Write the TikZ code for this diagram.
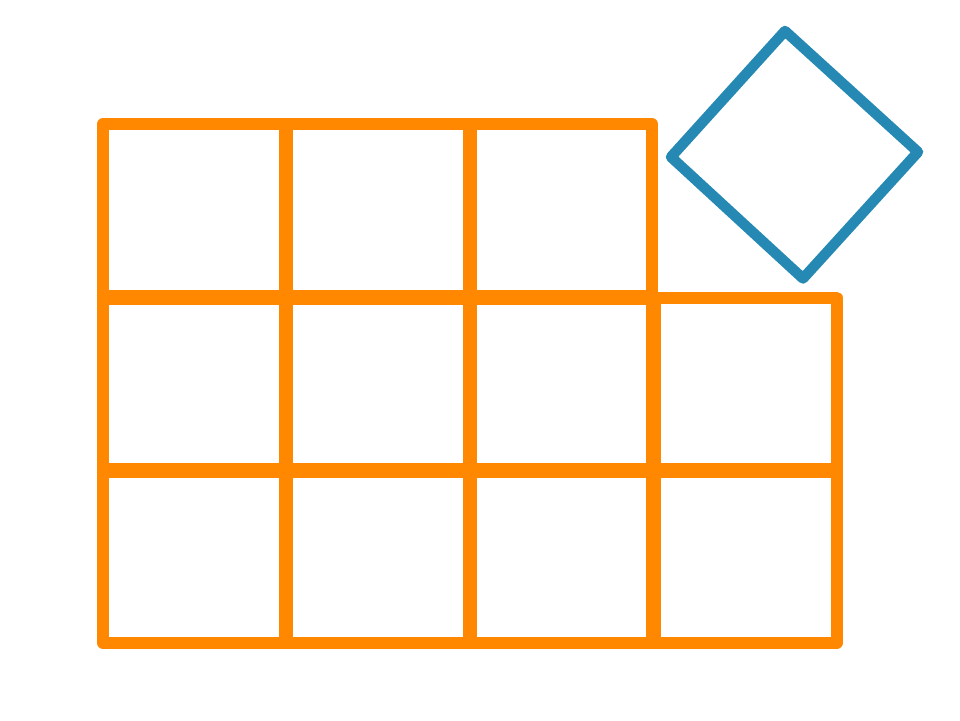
\documentclass[tikz,border=0pt]{standalone}
\definecolor{gridorange}{RGB}{255,136,0}
\definecolor{diamondblue}{RGB}{38,137,180}
\tikzset{
  cellbox/.style={draw=gridorange, line width=12pt, line join=round, line cap=round},
  innerline/.style={draw=gridorange, line width=14.5pt},
  bluebox/.style={draw=diamondblue, line width=10.5pt, line join=round, line cap=round}
}
\begin{document}
\begin{tikzpicture}[x=1pt,y=-1pt]
\useasboundingbox (0,0) rectangle (960,720);
% grid coordinates
\coordinate (x0) at (103,0);
\coordinate (x1) at (286,0);
\coordinate (x2) at (470,0);
\coordinate (x3) at (653.5,0);
\coordinate (x4) at (836.5,0);
\coordinate (x0i) at (108,0);
\coordinate (x4i) at (831,0);
\coordinate (y0) at (0,124);
\coordinate (y1) at (0,297.5);
\coordinate (y2) at (0,470.5);
\coordinate (y3) at (0,643);
\coordinate (y0i) at (0,129);
\coordinate (y1i) at (0,302);
\coordinate (y3i) at (0,638);
% inner lines
\draw[innerline] (x1|-y0i) -- (x1|-y3i);
\draw[innerline] (x2|-y0i) -- (x2|-y3i);
\draw[innerline] (x3|-y1i) -- (x3|-y3i);
\draw[innerline] (x0i|-y1) -- (x3|-y1);
\draw[innerline] (x0i|-y2) -- (x4i|-y2);
% outer border
\draw[cellbox] (x0|-y0) -- (652,124) -- (652,297.5) -- (x4|-y1) -- (x4|-y3) -- (x0|-y3) -- cycle;
% blue diamond
\coordinate (dt) at (785,31);
\coordinate (dr) at (918,152);
\coordinate (db) at (803,278.5);
\coordinate (dl) at (671,157);
\draw[bluebox] (dt) -- (dr) -- (db) -- (dl) -- cycle;
\end{tikzpicture}
\end{document}
